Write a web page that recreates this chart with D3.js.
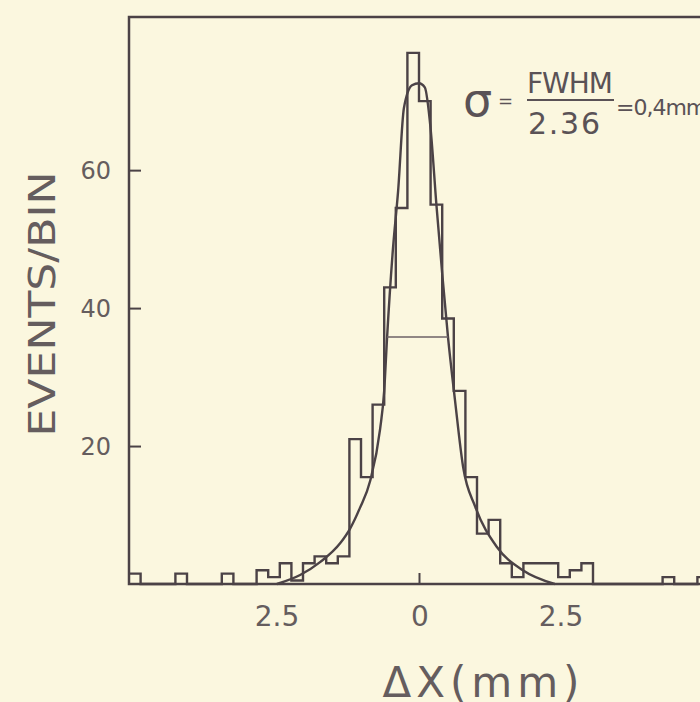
<!DOCTYPE html>
<html>
<head>
<meta charset="utf-8">
<script src="https://cdn.jsdelivr.net/npm/d3@7"></script>
<style>
  html, body { margin: 0; padding: 0; background: #fbf7df; }
  svg { display: block; }
</style>
</head>
<body>
<svg id="chart"></svg>
<script>
// histogram: bins of 0.2 mm starting at -5 mm
var binStart = -5;
var binWidth = 0.2;
var counts = [1.5, 0, 0, 0, 1.5, 0, 0, 0, 1.5, 0,
              0, 2, 1, 3, 0.5, 3, 4, 3, 4, 21,
              15.5, 26, 43, 54.5, 77, 70, 55, 38.5, 28, 15.5,
              7.3, 9.3, 3, 1, 3, 3, 3, 1, 2, 3,
              0, 0, 0, 0, 0, 0, 1, 0, 0, 1];

// fitted curve
var curveX = [-2.45, -2.05, -1.7, -1.36, -1.19, -1.02, -0.84, -0.67, -0.6, -0.55, -0.45, -0.36, -0.26, -0.12, 0, 0.1, 0.2, 0.3, 0.4, 0.5, 0.62, 0.76, 0.97, 1.34, 1.79, 2.34];
var curveY = [0, 1.3, 3.2, 5.9, 8, 11, 15, 22.5, 28, 35.8, 48.5, 57, 69, 72.3, 72.6, 72, 66, 55, 45, 35.8, 26.7, 17, 11.2, 5.4, 2, 0];

// FWHM marker
var fwhmLevel = 35.8;
var fwhmEnds = [-0.55, 0.5];

var xTicks = [-2.5, 0, 2.5];
var xTickLabels = ["2.5", "0", "2.5"];
var yTicks = [20, 40, 60];

var width = 700, height = 702;
var ink = "#4b4246";
var textInk = "#655d5e";

var svg = d3.select("#chart")
    .attr("width", width)
    .attr("height", height);

var x = d3.scaleLinear().domain([-5, 5]).range([129, 709]);
var y = d3.scaleLinear().domain([0, 82.2]).range([584, 17]);

// frame (right side runs off the page)
svg.append("rect")
    .attr("x", x(-5))
    .attr("y", y(82.2))
    .attr("width", x(5) - x(-5))
    .attr("height", y(0) - y(82.2))
    .attr("fill", "none")
    .attr("stroke", ink)
    .attr("stroke-width", 2.5);

// y axis ticks pointing inward
var yAxis = d3.axisRight(y)
    .tickValues(yTicks)
    .tickSize(12)
    .tickFormat("");
svg.append("g")
    .attr("transform", "translate(" + x(-5) + ",0)")
    .call(yAxis)
    .call(function(g){ g.select(".domain").remove(); })
    .selectAll("line")
    .attr("stroke", ink)
    .attr("stroke-width", 2);

svg.append("g").selectAll("text")
    .data(yTicks)
    .enter()
    .append("text")
    .attr("x", 111)
    .attr("y", function(d){ return y(d); })
    .attr("dy", "0.36em")
    .attr("text-anchor", "end")
    .attr("font-family", "DejaVu Sans")
    .attr("font-size", 24)
    .attr("fill", textInk)
    .text(function(d){ return d; });

// x axis ticks pointing up, only the centre one shows
var xAxis = d3.axisTop(x)
    .tickValues(xTicks)
    .tickSize(11)
    .tickFormat("");
svg.append("g")
    .attr("transform", "translate(0," + y(0) + ")")
    .call(xAxis)
    .call(function(g){ g.select(".domain").remove(); })
    .selectAll("line")
    .attr("stroke", ink)
    .attr("stroke-width", 2)
    .attr("y2", function(d){ return d === 0 ? -11 : 0; });

svg.append("g").selectAll("text")
    .data(xTicks)
    .enter()
    .append("text")
    .attr("x", function(d){ return x(d) + (d < 0 ? 3 : d > 0 ? -3 : 1); })
    .attr("y", 626)
    .attr("text-anchor", "middle")
    .attr("font-family", "DejaVu Sans")
    .attr("font-size", 28)
    .attr("fill", textInk)
    .text(function(d, i){ return xTickLabels[i]; });

// histogram outline
var steps = counts.map(function(c, i){ return [binStart + i * binWidth, c]; });
steps.push([binStart + counts.length * binWidth, counts[counts.length - 1]]);
var stepLine = d3.line()
    .x(function(d){ return x(d[0]); })
    .y(function(d){ return y(d[1]); })
    .curve(d3.curveStepAfter);
svg.append("path")
    .datum(steps)
    .attr("d", stepLine)
    .attr("fill", "none")
    .attr("stroke", ink)
    .attr("stroke-width", 2.4);

// fit curve
var fit = curveX.map(function(v, i){ return [v, curveY[i]]; });
var fitLine = d3.line()
    .x(function(d){ return x(d[0]); })
    .y(function(d){ return y(d[1]); })
    .curve(d3.curveMonotoneX);
svg.append("path")
    .datum(fit)
    .attr("d", fitLine)
    .attr("fill", "none")
    .attr("stroke", ink)
    .attr("stroke-width", 2.4);

// FWHM bar
svg.append("line")
    .attr("x1", x(fwhmEnds[0]))
    .attr("x2", x(fwhmEnds[1]))
    .attr("y1", y(fwhmLevel))
    .attr("y2", y(fwhmLevel))
    .attr("stroke", "#6d6266")
    .attr("stroke-width", 1.6);

// axis titles
svg.append("text")
    .attr("transform", "translate(55,304) rotate(-90)")
    .attr("text-anchor", "middle")
    .attr("font-family", "DejaVu Sans")
    .attr("font-size", 37)
    .attr("textLength", 265)
    .attr("lengthAdjust", "spacingAndGlyphs")
    .attr("fill", textInk)
    .text("EVENTS/BIN");

svg.append("text")
    .attr("x", 481)
    .attr("y", 697)
    .attr("text-anchor", "middle")
    .attr("font-family", "DejaVu Sans")
    .attr("font-size", 42)
    .attr("textLength", 197)
    .attr("lengthAdjust", "spacing")
    .attr("fill", textInk)
    .text("\u0394X(mm)");

// sigma annotation
var note = svg.append("g")
    .attr("font-family", "DejaVu Sans")
    .attr("fill", "#5a5256");
note.append("text")
    .attr("x", 463).attr("y", 116)
    .attr("font-size", 46)
    .text("\u03c3");
note.append("text")
    .attr("x", 498).attr("y", 107)
    .attr("font-size", 18)
    .text("=");
note.append("text")
    .attr("x", 570).attr("y", 93)
    .attr("text-anchor", "middle")
    .attr("font-size", 28)
    .attr("textLength", 86)
    .text("FWHM");
note.append("line")
    .attr("x1", 527).attr("x2", 614)
    .attr("y1", 100).attr("y2", 100)
    .attr("stroke", "#5a5256")
    .attr("stroke-width", 2);
note.append("text")
    .attr("x", 564).attr("y", 134)
    .attr("text-anchor", "middle")
    .attr("font-size", 30)
    .attr("textLength", 72)
    .text("2.36");
note.append("text")
    .attr("x", 616).attr("y", 115)
    .attr("font-size", 22)
    .attr("letter-spacing", -1)
    .text("=0,4mm");
</script>
</body>
</html>
